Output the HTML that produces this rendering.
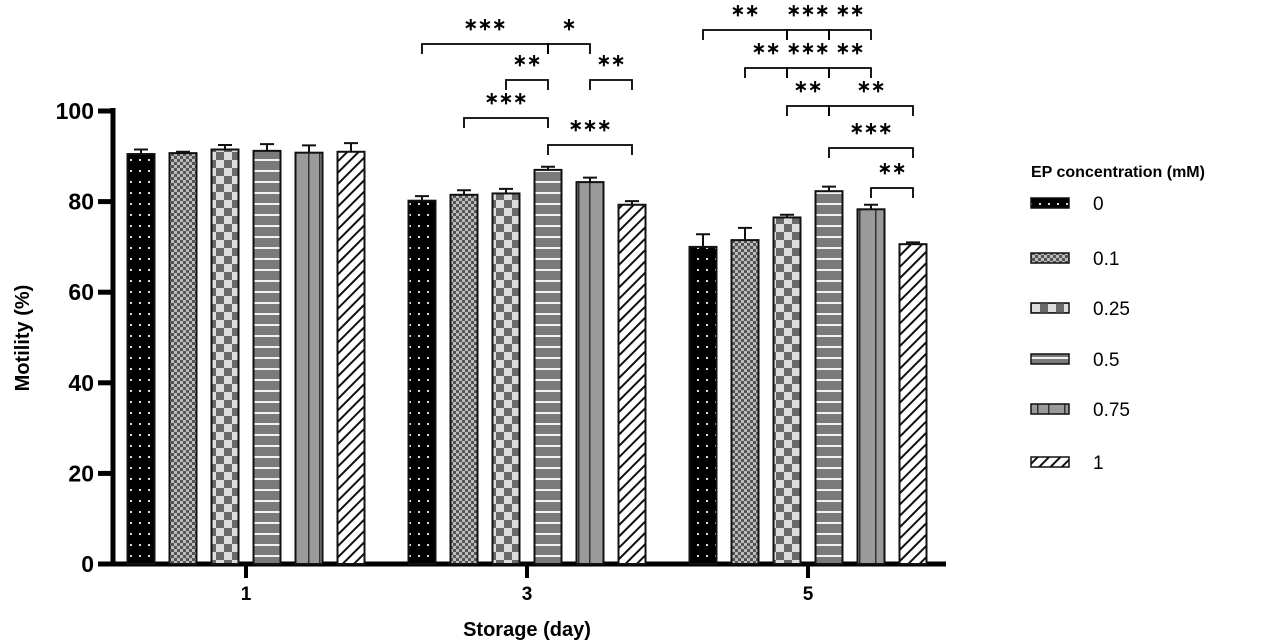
<!DOCTYPE html>
<html><head><meta charset="utf-8"><style>
body{margin:0;background:#fff;}
svg{display:block;font-family:"Liberation Sans",Arial,sans-serif;}
</style></head><body>
<svg id="chart" width="1271" height="644" viewBox="0 0 1271 644">
<defs>
<pattern id="p0" width="9" height="11" patternUnits="userSpaceOnUse"><rect width="9" height="11" fill="#000"/><rect x="4" y="5" width="2" height="2" fill="#ddd"/></pattern>
<pattern id="p1" width="6" height="6" patternUnits="userSpaceOnUse"><rect width="6" height="6" fill="#bbb"/><rect width="3" height="3" fill="#555"/><rect x="3" y="3" width="3" height="3" fill="#555"/></pattern>
<pattern id="p2" width="16" height="16" patternUnits="userSpaceOnUse"><rect width="16" height="16" fill="#ddd"/><rect width="8" height="8" fill="#6a6a6a"/><rect x="8" y="8" width="8" height="8" fill="#6a6a6a"/></pattern>
<pattern id="p3" width="10" height="11" patternUnits="userSpaceOnUse"><rect width="10" height="11" fill="#7a7a7a"/><rect y="5" width="10" height="2" fill="#f2f2f2"/></pattern>
<pattern id="p4" width="27" height="10" patternUnits="userSpaceOnUse"><rect width="27" height="10" fill="#9a9a9a"/><rect x="11" width="1.5" height="10" fill="#333"/><rect x="22" width="1.5" height="10" fill="#333"/></pattern>
<pattern id="p5" width="8" height="8" patternUnits="userSpaceOnUse" patternTransform="rotate(45)"><rect width="8" height="8" fill="#fff"/><rect width="2" height="8" fill="#111"/></pattern>
</defs>
<g id="axes"></g>
<g id="bars"></g>
<g id="annot"></g>
<g id="legend"></g>
</svg>
<script>
const groups = ["1","3","5"];
const concLabels = ["0","0.1","0.25","0.5","0.75","1"];
const day1 = [90.5, 90.7, 91.5, 91.2, 90.8, 91.0];
const day3 = [80.2, 81.5, 81.8, 87.0, 84.3, 79.3];
const day5 = [70.0, 71.5, 76.5, 82.3, 78.3, 70.6];
const err1 = [1.0, 0.3, 1.0, 1.5, 1.6, 1.9];
const err3 = [1.0, 1.0, 1.0, 0.7, 1.0, 0.8];
const err5 = [2.8, 2.7, 0.6, 1.0, 1.0, 0.4];
const yTicks = [0,20,40,60,80,100];
const NS="http://www.w3.org/2000/svg";
const series=[day1,day3,day5], errs=[err1,err3,err5];
const y0=564, y100=111;
const ys=v=>y0-(y0-y100)*v/100;
const gc=i=>246+281*i;
const bx=(g,k)=>gc(g)+(k-2.5)*42-13.5;
const bw=27;
function mk(p,tag,a){const e=document.createElementNS(NS,tag);for(const k in a)e.setAttribute(k,a[k]);p.appendChild(e);return e;}
const axes=document.getElementById('axes');
let e=mk(axes,'line',{x1:113,y1:108,x2:113,y2:566,stroke:'#000','stroke-width':5});


e=mk(axes,'line',{x1:111,y1:564,x2:946,y2:564,stroke:'#000','stroke-width':5});


yTicks.forEach(t=>{
 const l=mk(axes,'line',{x1:98,x2:113,y1:ys(t),y2:ys(t),stroke:'#000','stroke-width':5});
 
 
 const tx=mk(axes,'text',{x:94,y:ys(t)+8,'text-anchor':'end','font-size':23,'font-weight':'bold'});
 tx.textContent=t;
 
 
});
groups.forEach((g,i)=>{
 const l=mk(axes,'line',{x1:gc(i),x2:gc(i),y1:564,y2:578,stroke:'#000','stroke-width':4});
 
 
 const tx=mk(axes,'text',{x:gc(i),y:600,'text-anchor':'middle','font-size':19,'font-weight':'bold'});
 tx.textContent=g;
 
 
});
e=mk(axes,'text',{x:527,y:636,'text-anchor':'middle','font-size':20,'font-weight':'bold'});
e.textContent='Storage (day)';


e=mk(axes,'text',{x:0,y:0,'text-anchor':'middle','font-size':20,'font-weight':'bold',transform:'translate(29,338) rotate(-90)'});
e.textContent='Motility (%)';


const bars=document.getElementById('bars');
series.forEach((s,g)=>s.forEach((v,k)=>{
 const x=bx(g,k),cx=x+bw/2,top=ys(v),et=ys(v+errs[g][k]);
 const r=mk(bars,'rect',{x:x,y:top,width:bw,height:y0-top,fill:'url(#p'+k+')',stroke:'#111','stroke-width':2});
 
 
 const eb=mk(bars,'path',{d:`M${cx},${top}V${et}M${cx-7},${et}H${cx+7}`,stroke:'#111','stroke-width':2,fill:'none'});
 
 
}));
// significance annotations: [group, fromBar, toBar, yPixel, label]
const sig=[
 [1,0,3,44,'***'],[1,3,4,44,'*'],[1,2,3,80,'**'],[1,4,5,80,'**'],[1,1,3,118,'***'],[1,3,5,145,'***'],
 [2,0,2,30,'**'],[2,2,3,30,'***'],[2,3,4,30,'**'],
 [2,1,2,68,'**'],[2,2,3,68,'***'],[2,3,4,68,'**'],
 [2,2,3,106,'**'],[2,3,5,106,'**'],[2,3,5,148,'***'],[2,4,5,188,'**']];
const an=document.getElementById('annot');
sig.forEach(s=>{
 const a=bx(s[0],s[1])+bw/2,b=bx(s[0],s[2])+bw/2,y=s[3];
 const p=mk(an,'path',{d:`M${a},${y+10}V${y}H${b}V${y+10}`,stroke:'#000','stroke-width':1.8,fill:'none'});
 
 
 const t=mk(an,'text',{x:(a+b)/2,y:y-14,'text-anchor':'middle','font-size':17,'font-weight':'bold'});
 t.textContent=s[4].replace(/\*/g,'∗');
 
 
});
const lg=document.getElementById('legend');
e=mk(lg,'text',{x:1031,y:177,'font-size':16,'font-weight':'bold'});
e.textContent='EP concentration (mM)';


const ly=[203,258,308,359,409,462];
concLabels.forEach((c,k)=>{
 const r=mk(lg,'rect',{x:1031,y:ly[k]-5,width:38,height:10,fill:'url(#p'+k+')',stroke:'#111','stroke-width':1.5});
 
 
 const t=mk(lg,'text',{x:1093,y:ly[k]+7,'font-size':19});
 t.textContent=c;
 
 
});
</script>
</body></html>
